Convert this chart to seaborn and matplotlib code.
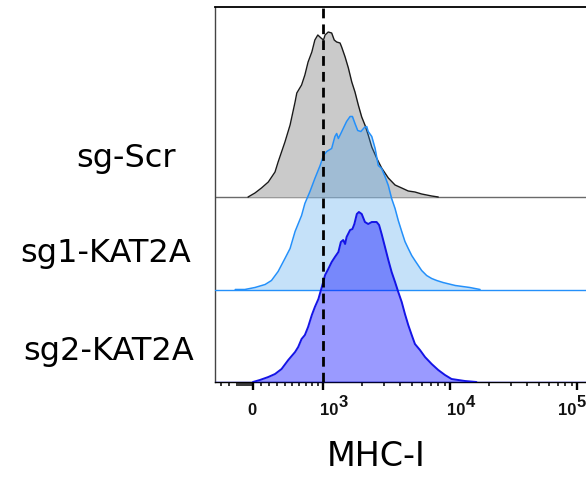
import numpy as np
import pandas as pd
import matplotlib
matplotlib.use("Agg")
import matplotlib.pyplot as plt
import seaborn as sns

# MHC-I intensity (x) and event counts
samples = ["sg-Scr", "sg1-KAT2A", "sg2-KAT2A"]

scr_mhc = [-60, 25, 105, 190, 275, 315, 405, 475, 545, 570, 640, 690, 740, 800, 850, 900, 955, 1000,
           1030, 1090, 1160, 1215, 1270, 1350, 1390, 1480, 1570, 1670, 1770, 1880, 2000, 2120, 2250,
           2400, 2620, 2870, 3240, 3660, 4130, 4650, 5250, 5930, 7110, 8010]
scr_count = [0, 4, 9, 15, 25, 35, 55, 72, 95, 104, 112, 122, 135, 145, 157, 162, 159, 157,
             162, 165, 164, 157, 155, 154, 150, 140, 129, 115, 105, 92, 80, 72, 62,
             50, 39, 29, 19, 12, 9, 6, 5, 3, 1, 0]

sg1_mhc = [-220, -100, 25, 150, 230, 315, 405, 475, 545, 640, 690, 770, 850, 940, 1000, 1060, 1160,
           1230, 1270, 1310, 1370, 1430, 1520, 1620, 1690, 1770, 1860, 1970, 2100, 2190, 2250, 2400,
           2550, 2700, 2870, 3050, 3240, 3440, 3660, 3880, 4130, 4380, 4650, 4950, 5250, 5580, 5930,
           6490, 7110, 7790, 8730, 10900, 14200, 17100]
sg1_count = [0, 0, 2, 5, 9, 18, 31, 41, 58, 74, 86, 98, 111, 124, 134, 138, 141,
             153, 156, 151, 156, 161, 168, 173, 173, 166, 159, 158, 162, 163, 158, 153,
             141, 124, 121, 113, 104, 91, 81, 69, 58, 48, 41, 34, 29, 24, 19,
             14, 11, 9, 7, 4, 2, 0]

sg2_mhc = [0, 85, 190, 275, 360, 450, 545, 590, 640, 690, 740, 800, 850, 910, 970, 1030, 1090, 1160,
           1230, 1310, 1370, 1430, 1480, 1520, 1620, 1690, 1750, 1830, 1900, 2000, 2120, 2250, 2400,
           2620, 2740, 2870, 3050, 3240, 3440, 3660, 3880, 4130, 4380, 4650, 4950, 5250, 5750, 6300,
           7110, 8010, 9050, 10200, 11500, 13000, 16000]
sg2_count = [0, 2, 5, 8, 13, 22, 30, 35, 43, 47, 55, 67, 75, 83, 95, 107, 113, 120,
             125, 130, 140, 142, 138, 145, 152, 153, 158, 168, 170, 168, 160, 158, 160,
             160, 157, 148, 135, 122, 110, 100, 90, 80, 68, 57, 47, 38, 32, 25,
             18, 12, 7, 3, 2, 1, 0]

gate = 1000  # dashed reference at 10^3

# biexponential-like display: asinh below 10^3, log10 above
C_BX, K_BX, T_BX = 920.0, 0.59, 1000.0
A_BX = K_BX * np.arcsinh(T_BX / C_BX)


def fwd(x):
    x = np.asarray(x, dtype=float)
    lo = K_BX * np.arcsinh(x / C_BX)
    hi = A_BX + np.log10(np.maximum(x, T_BX) / T_BX)
    return np.where(x < T_BX, lo, hi)


def inv(y):
    y = np.asarray(y, dtype=float)
    lo = C_BX * np.sinh(np.minimum(y, A_BX) / K_BX)
    hi = T_BX * 10 ** (np.maximum(y, A_BX) - A_BX)
    return np.where(y < A_BX, lo, hi)


sns.set_style("white")
plt.rcParams["font.family"] = ["DejaVu Sans"]

df = pd.concat([
    pd.DataFrame({"sample": "sg-Scr", "mhc": scr_mhc, "count": scr_count, "off": 185.0}),
    pd.DataFrame({"sample": "sg1-KAT2A", "mhc": sg1_mhc, "count": sg1_count, "off": 92.5}),
    pd.DataFrame({"sample": "sg2-KAT2A", "mhc": sg2_mhc, "count": sg2_count, "off": 0.0}),
], ignore_index=True)
df["level"] = df["count"] + df["off"]

styles = {
    "sg-Scr": dict(fill="#cacaca", falpha=1.0, line="#1a1a1a", lw=1.0, base="#6a6a6a"),
    "sg1-KAT2A": dict(fill="#419eee", falpha=0.3, line="#2490fa", lw=1.1, base="#2490fa"),
    "sg2-KAT2A": dict(fill="#0303ff", falpha=0.4, line="#1414e6", lw=1.4, base="#2a2aff"),
}

fig = plt.figure(figsize=(5.86, 4.82), dpi=100)
ax = fig.add_axes([215 / 586, 100 / 482, 371 / 586, 375 / 482])
ax.set_xscale("function", functions=(fwd, inv))
ax.set_xlim(-486, 116700)
ax.set_ylim(0, 375)

for i, name in enumerate(samples):
    sub = df[df["sample"] == name]
    st = styles[name]
    off = sub["off"].iloc[0]
    ax.axhline(off, color=st["base"], lw=1.0, zorder=2 + 2 * i)
    ax.fill_between(sub["mhc"], off, sub["level"], color=st["fill"], alpha=st["falpha"],
                    lw=0, zorder=2 + 2 * i)
    sns.lineplot(data=sub, x="mhc", y="level", color=st["line"], lw=st["lw"], sort=False,
                 estimator=None, ax=ax, zorder=3 + 2 * i)

ax.axvline(gate, color="black", lw=2.0, ls=(0, (3.5, 2.2)), zorder=20)

# axes frame
ax.spines["right"].set_visible(False)
ax.spines["top"].set_color("black")
ax.spines["top"].set_linewidth(1.3)
ax.spines["left"].set_color("#444444")
ax.spines["left"].set_linewidth(1.0)
ax.spines["bottom"].set_color("black")
ax.spines["bottom"].set_linewidth(1.0)
ax.set_yticks([])
ax.set_xlabel("")
ax.set_ylabel("")

ax.set_xticks([0, 1e3, 1e4, 1e5])
minor = [-400, -300, -200, -175, -150, -125, -100, -75, -50, -25] \
    + [k * 100 for k in range(1, 10)] \
    + [k * 1000 for k in range(2, 10)] + [k * 10000 for k in range(2, 10)]
ax.set_xticks(minor, minor=True)
ax.set_xticklabels([])
ax.tick_params(axis="x", which="major", direction="out", length=5.5, width=1.7, color="black",
               bottom=True)
ax.tick_params(axis="x", which="minor", direction="out", length=3, width=1.1, color="black",
               bottom=True)

xt = ax.get_xaxis_transform()
lab_font = dict(fontsize=12, fontweight="bold", family="Liberation Sans", color="#111111")
ax.annotate("0", xy=(0, 0), xycoords=xt, xytext=(-1, -33), textcoords="offset pixels",
            ha="center", va="baseline", annotation_clip=False, **lab_font)
# last label sits left of its tick, as in the source plot
for v, e, dx in [(1e3, "3", -3), (1e4, "4", -3), (1e5, "5", -19)]:
    ax.annotate("10", xy=(v, 0), xycoords=xt, xytext=(dx, -33), textcoords="offset pixels",
                ha="left", va="baseline", annotation_clip=False, **lab_font)
    ax.annotate(e, xy=(v, 0), xycoords=xt, xytext=(dx + 18, -25), textcoords="offset pixels",
                ha="left", va="baseline", annotation_clip=False, **lab_font)

# sample labels and axis title
name_pos = {"sg-Scr": (126, 167), "sg1-KAT2A": (106, 262), "sg2-KAT2A": (109, 360)}
for name in samples:
    px, py = name_pos[name]
    fig.text(px / 586, 1 - py / 482, name, ha="center", va="baseline", fontsize=23, color="black")
fig.text(376.5 / 586, 1 - 466 / 482, "MHC-I", ha="center", va="baseline", fontsize=24, color="black")

fig.savefig("out.png", dpi=100)
